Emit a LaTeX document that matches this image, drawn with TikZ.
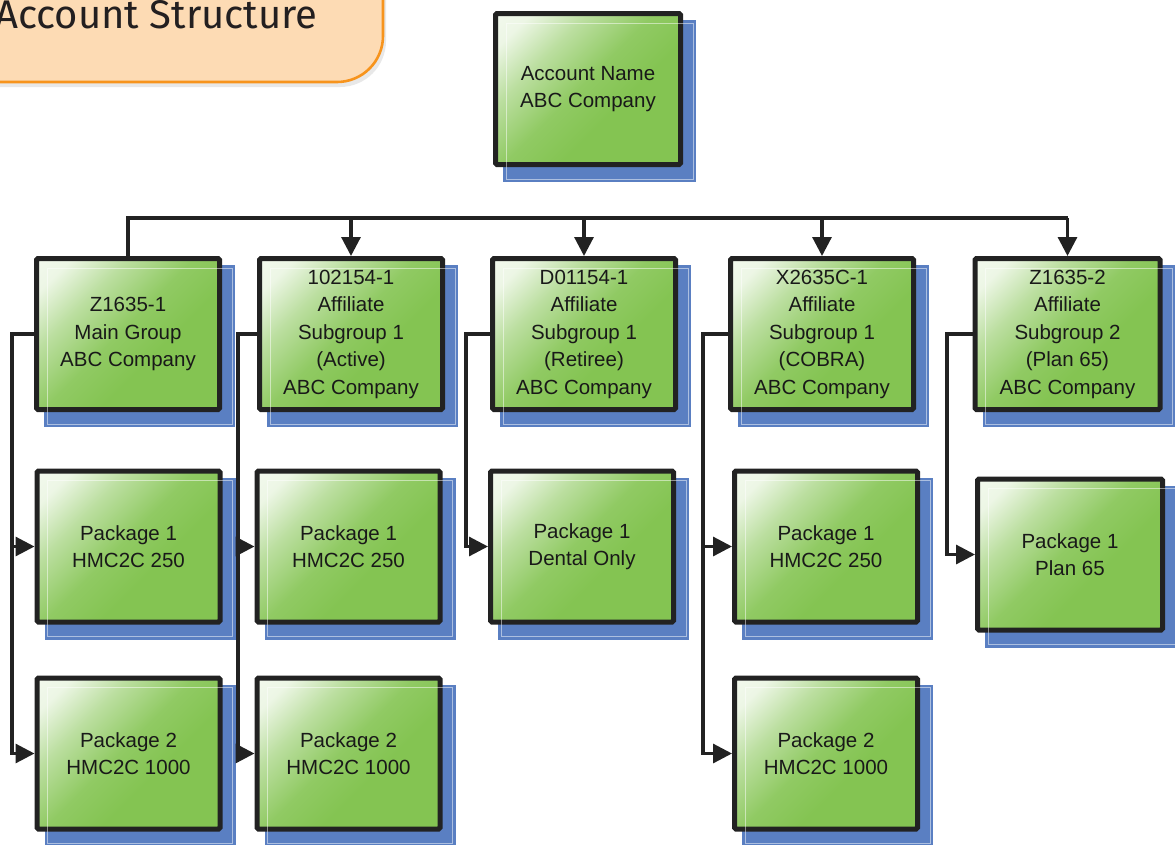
\documentclass[tikz,border=0pt]{standalone}
\usepackage{fontspec}
\setmainfont{Liberation Sans}
\newfontfamily\titlefont{Fira Sans}
\usetikzlibrary{arrows.meta,calc,backgrounds,shadows}
\definecolor{boxgreen}{RGB}{132,196,82}
\definecolor{boxline}{RGB}{34,34,34}
\definecolor{shadowblue}{RGB}{90,127,194}
\definecolor{textcol}{RGB}{25,25,25}
\definecolor{titlefill}{RGB}{253,219,180}
\definecolor{titleline}{RGB}{247,148,29}
\definecolor{titletext}{RGB}{35,31,32}
\pgfdeclarehorizontalshading{greenglow}{100bp}{color(0bp)=(white); color(22bp)=(white!85!boxgreen); color(34bp)=(boxgreen!55!white); color(48bp)=(boxgreen!90!white); color(60bp)=(boxgreen); color(100bp)=(boxgreen)}
\tikzset{
  box/.style={draw=boxline, line width=5pt, rounded corners=1.5pt, shading=greenglow, shading angle=-45,
    minimum width=183pt, minimum height=151pt, inner sep=0pt, align=center, text=textcol,
    font=\fontsize{20.5}{27.5}\selectfont},
  widebox/.style={box, minimum width=185pt},
  conn/.style={draw=boxline, line width=3.2pt},
  arr/.style={conn, -{Triangle[length=19pt,width=19pt]}},
}
\newcommand\boxshadow[1]{%
  \begin{pgfonlayer}{background}
    \fill[shadowblue] ($(#1.north west)+(10,9)$) rectangle ($(#1.south east)+(13,15)$);
  \end{pgfonlayer}
  \draw[white, opacity=0.5, line width=0.8pt] ($(#1.north west)+(13,12)$) rectangle ($(#1.south east)+(10,12)$);
}
\begin{document}
\begin{tikzpicture}[x=1pt,y=-1pt]
\useasboundingbox (0,0) rectangle (1175,844);
% title
\draw[fill=titlefill, draw=titleline, line width=2.6pt, rounded corners=46pt,
  drop shadow={opacity=0.18, shadow xshift=3pt, shadow yshift=-5pt}]
  (-60,-60) rectangle (383,82);
\node[anchor=base west, inner sep=0pt, text=titletext, font=\titlefont\fontsize{40}{40}\selectfont] (title) at (-5,28) {Account Structure};
% top
\node[widebox] (top) at (588,89) {Account Name\\ABC Company};
\boxshadow{top}
% row 1
\node[box] (z1) at (128,334) {Z1635-1\\Main Group\\ABC Company};
\node[box] (a1) at (351,334) {102154-1\\Affiliate\\Subgroup 1\\(Active)\\ABC Company};
\node[box] (d1) at (584,334) {D01154-1\\Affiliate\\Subgroup 1\\(Retiree)\\ABC Company};
\node[box] (x1) at (822,334) {X2635C-1\\Affiliate\\Subgroup 1\\(COBRA)\\ABC Company};
\node[widebox] (z2) at (1067.5,334) {Z1635-2\\Affiliate\\Subgroup 2\\(Plan 65)\\ABC Company};
\foreach \n in {z1,a1,d1,x1,z2} {\boxshadow{\n}}
% row 2
\node[box] (p11) at (128.5,546.5) {Package 1\\HMC2C 250};
\node[box] (p21) at (348.5,546.5) {Package 1\\HMC2C 250};
\node[box] (pd) at (582,546.5) {Package 1\\Dental Only};
\node[box] (px1) at (826,546.5) {Package 1\\HMC2C 250};
\node[widebox] (p65) at (1070,554.5) {Package 1\\Plan 65};
\foreach \n in {p11,p21,pd,px1,p65} {\boxshadow{\n}}
% row 3
\node[box] (p12) at (128.5,753.5) {Package 2\\HMC2C 1000};
\node[box] (p22) at (348.5,753.5) {Package 2\\HMC2C 1000};
\node[box] (px2) at (826,753.5) {Package 2\\HMC2C 1000};
\foreach \n in {p12,p22,px2} {\boxshadow{\n}}
% bus
\coordinate (bus) at (0,218);
\draw[conn] (z1.north) |- (z2.north |- bus);
\foreach \n in {a1,d1,x1,z2} {\draw[arr] (\n.north |- bus) -- (\n.north);}
% branches
\coordinate (tz1) at (12,334);
\coordinate (ta1) at (238,334);
\coordinate (td1) at (466,334);
\coordinate (tx1) at (703,334);
\coordinate (tz2) at (947,334);
\draw[arr] (z1.west) -- (tz1) |- (p11.west);
\draw[arr] (tz1) |- (p12.west);
\draw[arr] (a1.west) -- (ta1) |- (p21.west);
\draw[arr] (ta1) |- (p22.west);
\draw[arr] (d1.west) -- (td1) |- (pd.west);
\draw[arr] (x1.west) -- (tx1) |- (px1.west);
\draw[arr] (tx1) |- (px2.west);
\draw[arr] (z2.west) -- (tz2) |- (p65.west);
\end{tikzpicture}
\end{document}
